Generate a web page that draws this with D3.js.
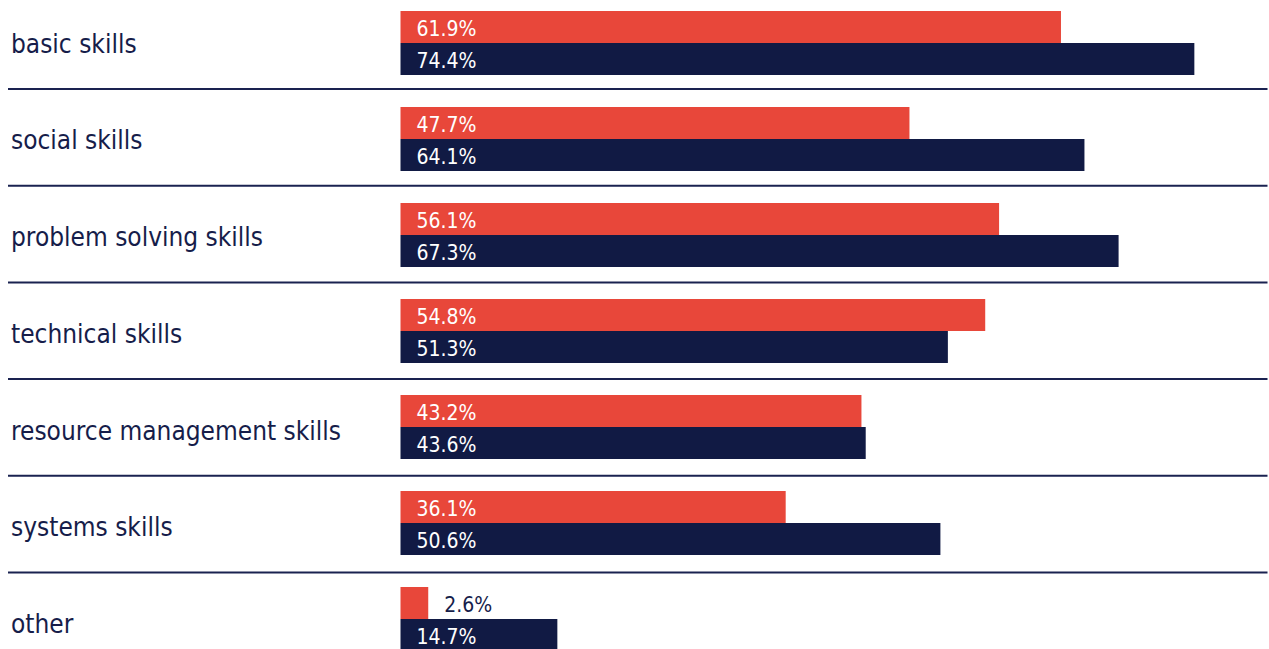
<!DOCTYPE html>
<html>
<head>
<meta charset="utf-8">
<script src="https://cdn.jsdelivr.net/npm/d3@7"></script>
<style>
  html, body { margin: 0; padding: 0; background: #ffffff; overflow: hidden; }
  svg { display: block; }
  .cat { font-family: 'DejaVu Sans Condensed', 'DejaVu Sans', sans-serif; font-stretch: condensed; font-size: 26px; fill: #161d4a; }
  .val { font-family: 'DejaVu Sans Condensed', 'DejaVu Sans', sans-serif; font-stretch: condensed; font-size: 21px; }
</style>
</head>
<body>
<script>
// Skill categories, top to bottom
const categories = [
  "basic skills",
  "social skills",
  "problem solving skills",
  "technical skills",
  "resource management skills",
  "systems skills",
  "other"
];
// Upper (red) bar of each pair, in percent
const redValues = [61.9, 47.7, 56.1, 54.8, 43.2, 36.1, 2.6];
// Lower (navy) bar of each pair, in percent
const navyValues = [74.4, 64.1, 67.3, 51.3, 43.6, 50.6, 14.7];
const seriesKeys = ["red", "navy"];

const W = 1269, H = 649;
const RED = "#e8473a", NAVY = "#111a44", INK = "#161d4a";

const rows = categories.map((c, i) => ({ cat: c, red: redValues[i], navy: navyValues[i] }));

const svg = d3.select("body").append("svg")
  .attr("width", W).attr("height", H);

// Horizontal value scale shared by all bars
const x = d3.scaleLinear().domain([0, 100]).range([400.5, 1467.5]);

// Row bands for category labels and divider rules
const rowBand = d3.scaleBand().domain(categories).range([-7.7, -7.7 + 96.7 * categories.length]);
// Row bands for the bar pairs
const barBand = d3.scaleBand().domain(categories).range([11, 11 + 96 * categories.length]);
// Position of each series inside a pair
const inner = d3.scaleBand().domain(seriesKeys).range([0, 64]);

// Divider rules between rows
svg.append("g").selectAll("line")
  .data(categories.slice(0, -1))
  .join("line")
  .attr("x1", 8).attr("x2", 1267.5)
  .attr("y1", d => rowBand(d) + rowBand.bandwidth())
  .attr("y2", d => rowBand(d) + rowBand.bandwidth())
  .attr("stroke", "#1a2250")
  .attr("stroke-width", 2);

// Category labels
svg.append("g").selectAll("text")
  .data(categories)
  .join("text")
  .attr("class", "cat")
  .attr("x", 11)
  .attr("y", d => rowBand(d) + 60.4)
  .text(d => d);

// Bars and value labels
const colors = { red: RED, navy: NAVY };
const groups = svg.append("g").selectAll("g")
  .data(rows)
  .join("g")
  .attr("transform", d => `translate(0,${barBand(d.cat)})`);

const cells = groups.selectAll("g.cell")
  .data(d => seriesKeys.map(k => ({ key: k, value: d[k] })))
  .join("g")
  .attr("class", "cell");

cells.append("rect")
  .attr("x", x(0))
  .attr("y", d => inner(d.key))
  .attr("width", d => x(d.value) - x(0))
  .attr("height", inner.bandwidth())
  .attr("fill", d => colors[d.key]);

cells.append("text")
  .attr("class", "val")
  .each(function (d) {
    const w = x(d.value) - x(0);
    const inside = w > 80;
    d3.select(this)
      .attr("x", inside ? x(0) + 16 : x(d.value) + 16)
      .attr("y", inner(d.key) + 25)
      .attr("fill", inside ? "#ffffff" : INK);
  })
  .text(d => d.value.toFixed(1) + "%");
</script>
</body>
</html>
